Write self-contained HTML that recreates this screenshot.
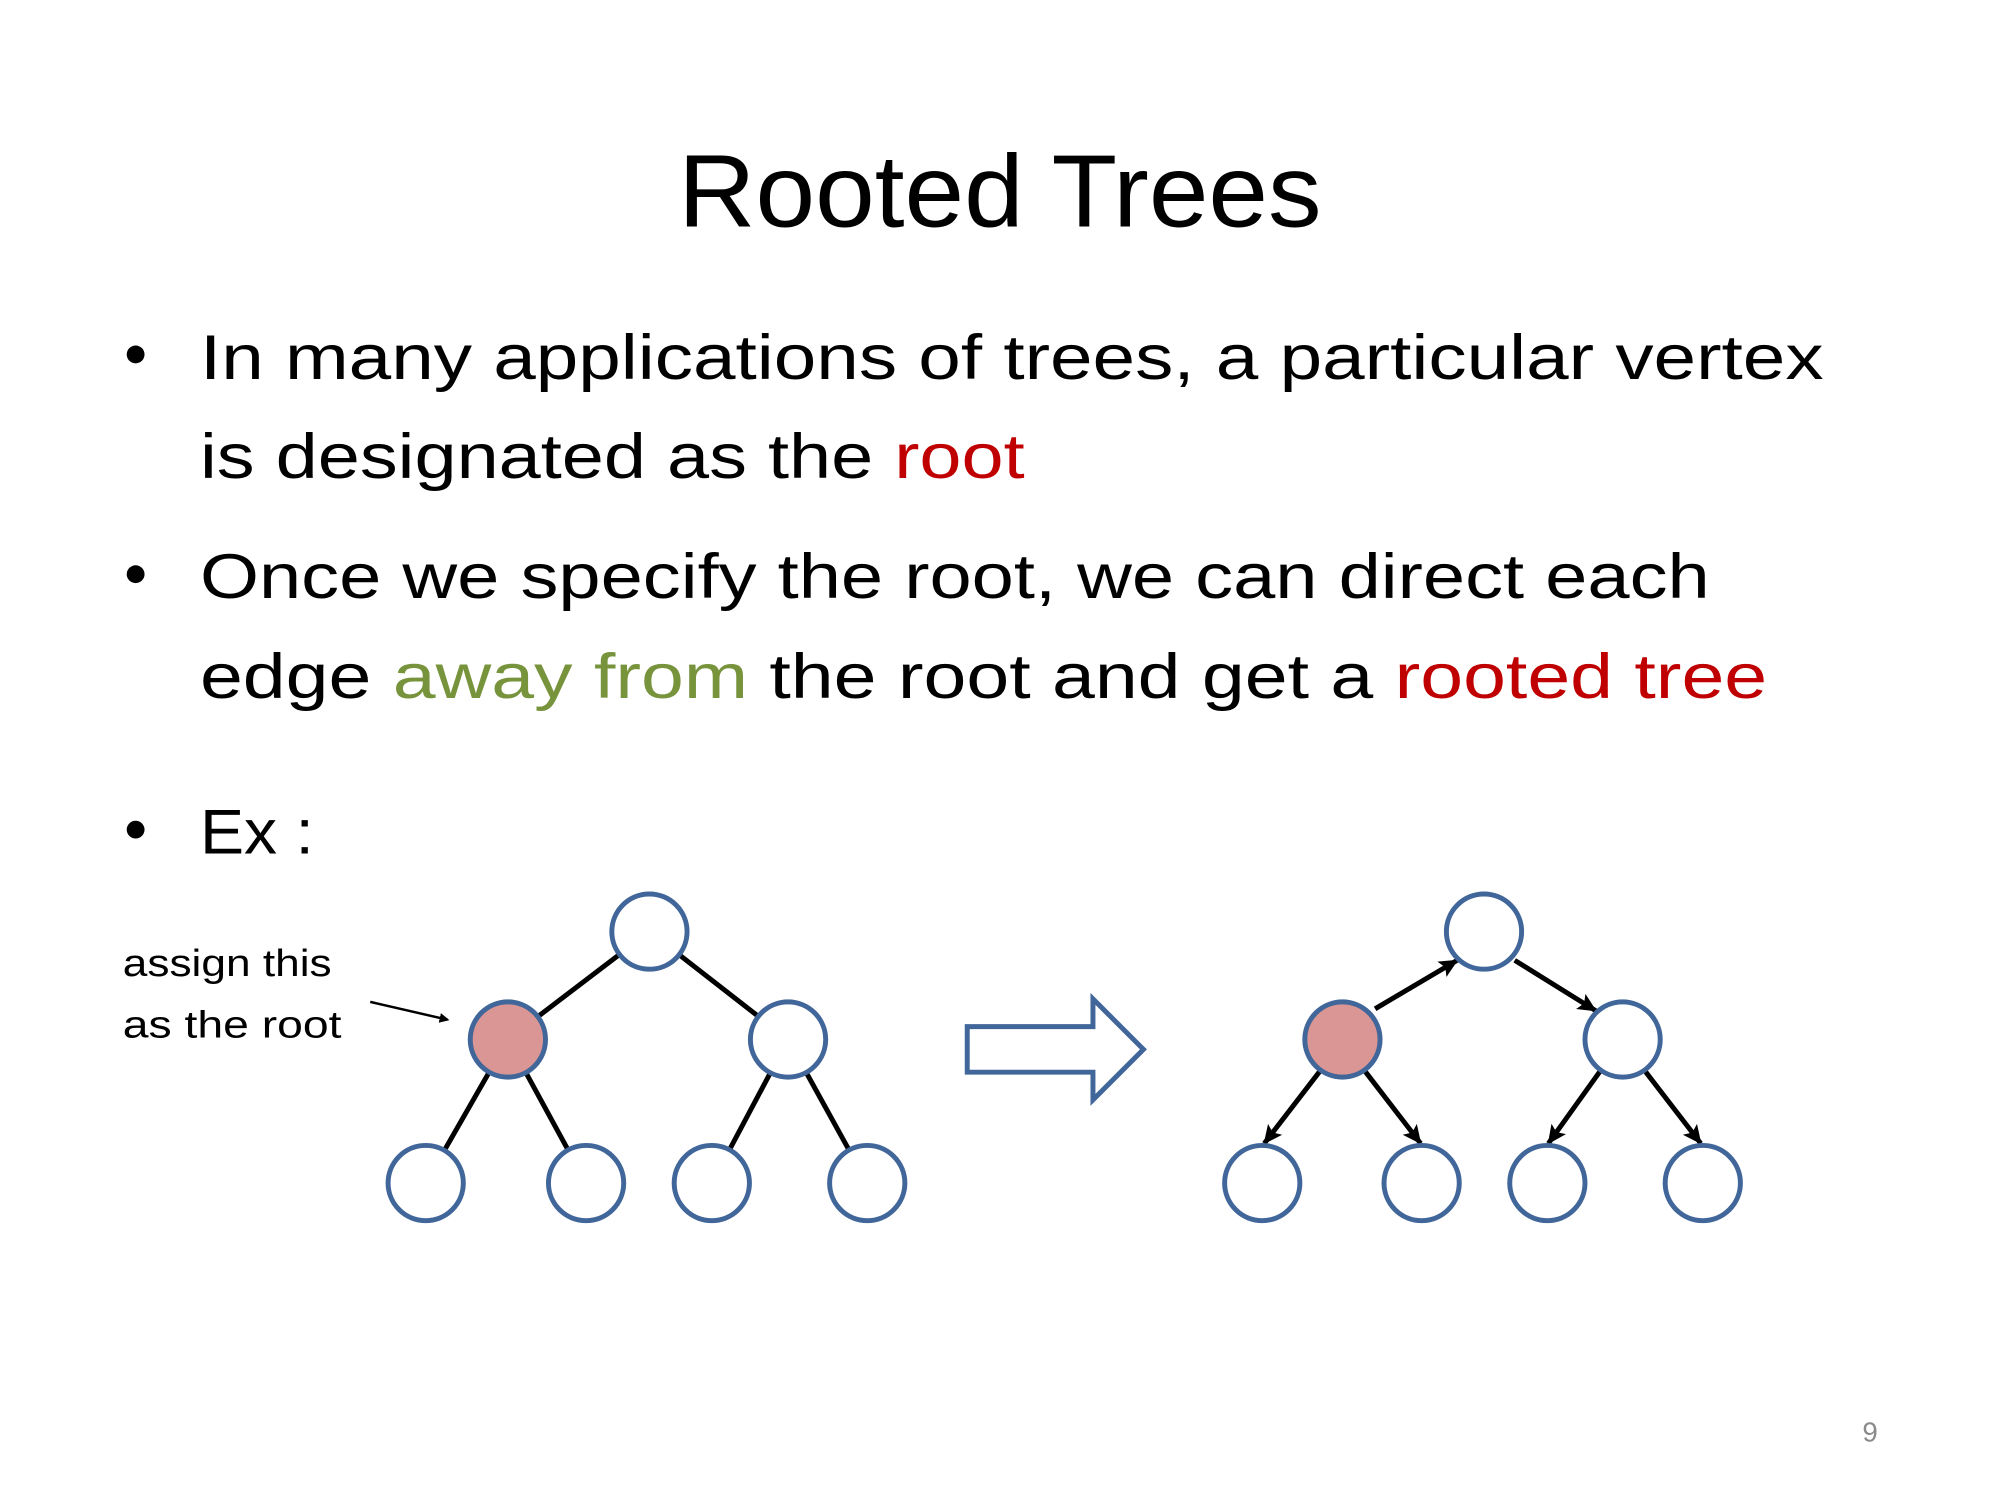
<!DOCTYPE html>
<html><head><meta charset="utf-8"><style>
html,body{margin:0;padding:0;background:#fff;}
svg{display:block;}
text{font-family:"Liberation Sans",sans-serif;}
</style></head><body>
<svg width="2000" height="1500" viewBox="0 0 2000 1500" xmlns="http://www.w3.org/2000/svg">
<defs>
<marker id="ah" markerWidth="10" markerHeight="10" refX="8" refY="5" orient="auto" markerUnits="userSpaceOnUse" viewBox="0 0 10 10">
<path d="M0,0 L10,5 L0,10 z" fill="#000"/>
</marker>
<marker id="ah2" viewBox="0 0 20 20" refX="18" refY="10" markerWidth="20" markerHeight="20" orient="auto" markerUnits="userSpaceOnUse">
<path d="M0,1 L19,10 L0,19 L4,10 z" fill="#000"/>
</marker>
</defs>
<g transform="scale(0.99)">
<text x="1010" y="229" font-size="104" text-anchor="middle" textLength="650" lengthAdjust="spacingAndGlyphs">Rooted Trees</text>

<g font-size="64">
<circle cx="137" cy="358" r="9" fill="#000"/>
<text x="202" y="383" textLength="1640" lengthAdjust="spacingAndGlyphs">In many applications of trees, a particular vertex</text>
<text x="202" y="483" textLength="833" lengthAdjust="spacingAndGlyphs">is designated as the <tspan fill="#c00000">root</tspan></text>
<circle cx="137" cy="580" r="9" fill="#000"/>
<text x="202" y="604" textLength="1525" lengthAdjust="spacingAndGlyphs">Once we specify the root, we can direct each</text>
<text x="202" y="705" textLength="1583" lengthAdjust="spacingAndGlyphs">edge <tspan fill="#77933c">away from</tspan> the root and get a <tspan fill="#c00000">rooted tree</tspan></text>
<circle cx="137" cy="838" r="9" fill="#000"/>
<text x="202" y="862" textLength="115" lengthAdjust="spacingAndGlyphs">Ex :</text>
</g>

<text x="124" y="986" font-size="38" textLength="211" lengthAdjust="spacingAndGlyphs">assign this</text>
<text x="124" y="1048" font-size="38" textLength="221" lengthAdjust="spacingAndGlyphs">as the root</text>
<line x1="374" y1="1012" x2="452" y2="1030" stroke="#000" stroke-width="2.5" marker-end="url(#ah)"/>

<g stroke="#000" stroke-width="5">
<line x1="656" y1="941" x2="513" y2="1050"/>
<line x1="656" y1="941" x2="796" y2="1050"/>
<line x1="513" y1="1050" x2="430" y2="1195"/>
<line x1="513" y1="1050" x2="592" y2="1195"/>
<line x1="796" y1="1050" x2="719" y2="1195"/>
<line x1="796" y1="1050" x2="876" y2="1195"/>
</g>
<g stroke="#41669a" stroke-width="5" fill="#fff">
<circle cx="656" cy="941" r="38"/>
<circle cx="513" cy="1050" r="38" fill="#d99694"/>
<circle cx="796" cy="1050" r="38"/>
<circle cx="430" cy="1195" r="38"/>
<circle cx="592" cy="1195" r="38"/>
<circle cx="719" cy="1195" r="38"/>
<circle cx="876" cy="1195" r="38"/>
</g>

<path d="M977,1037 L1104,1037 L1104,1009 L1155,1060 L1104,1111 L1104,1083 L977,1083 z" fill="#fff" stroke="#41669a" stroke-width="5"/>

<g stroke="#000" stroke-width="5">
<line x1="1389" y1="1019" x2="1472" y2="970" marker-end="url(#ah2)"/>
<line x1="1530" y1="970" x2="1612" y2="1021" marker-end="url(#ah2)"/>
<line x1="1334" y1="1081" x2="1277" y2="1155" marker-end="url(#ah2)"/>
<line x1="1378" y1="1081" x2="1435" y2="1155" marker-end="url(#ah2)"/>
<line x1="1617" y1="1081" x2="1564" y2="1155" marker-end="url(#ah2)"/>
<line x1="1661" y1="1081" x2="1718" y2="1155" marker-end="url(#ah2)"/>
</g>
<g stroke="#41669a" stroke-width="5" fill="#fff">
<circle cx="1499" cy="941" r="38"/>
<circle cx="1356" cy="1050" r="38" fill="#d99694"/>
<circle cx="1639" cy="1050" r="38"/>
<circle cx="1275" cy="1195" r="38"/>
<circle cx="1436" cy="1195" r="38"/>
<circle cx="1563" cy="1195" r="38"/>
<circle cx="1720" cy="1195" r="38"/>
</g>

<text x="1889" y="1456" font-size="28" fill="#8a8a8a" text-anchor="middle">9</text>
</g>
</svg>
</body></html>
